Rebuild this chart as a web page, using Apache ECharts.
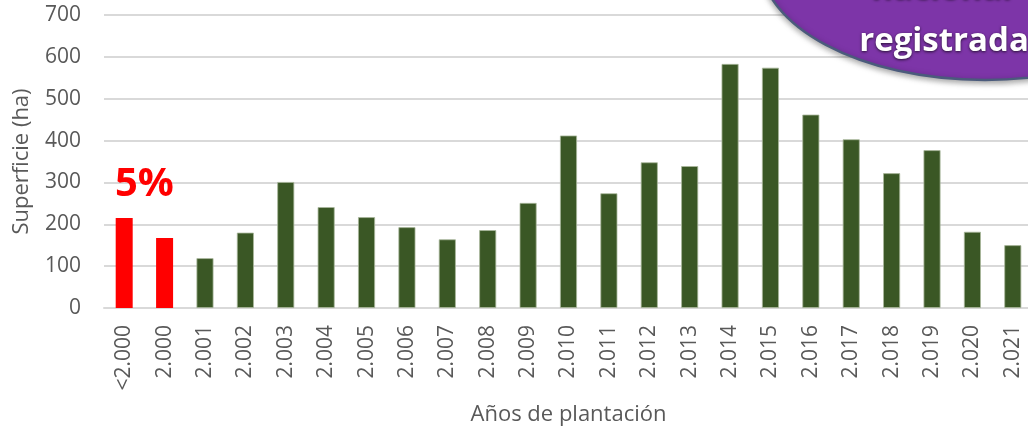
<!DOCTYPE html>
<html>
<head>
<meta charset="utf-8">
<script src="https://cdn.jsdelivr.net/npm/echarts@6/dist/echarts.min.js"></script>
<style>
  html, body { margin: 0; padding: 0; background: #fff; }
  #chart { width: 1028px; height: 429px; }
</style>
</head>
<body>
<div id="chart"></div>
<script>
// datos
const years = ["<2.000", "2.000", "2.001", "2.002", "2.003", "2.004", "2.005", "2.006", "2.007", "2.008",
  "2.009", "2.010", "2.011", "2.012", "2.013", "2.014", "2.015", "2.016", "2.017", "2.018", "2.019", "2.020", "2.021"];
const surface = [215, 167, 119, 180, 301, 241, 217, 193, 164, 186,
  251, 412, 274, 348, 339, 583, 574, 462, 403, 322, 377, 182, 150];
const oldCount = 2; // las dos primeras en rojo
const oldShare = "5%";

const green = "#3a5725";
const red = "#ff0000";
const grey = "#595959";
const font = "Open Sans";

const chart = echarts.init(document.getElementById("chart"));

chart.setOption({
  animation: false,
  textStyle: { fontFamily: font },
  grid: { left: 104, right: -5, top: 15, bottom: 121, outerBoundsMode: "none" },
  xAxis: {
    type: "category",
    data: years,
    name: "Años de plantación",
    nameLocation: "middle",
    nameGap: 96,
    nameTextStyle: { color: grey, fontSize: 22, fontFamily: font },
    axisLine: { lineStyle: { color: "#d9d9d9", width: 2 } },
    axisTick: { show: false },
    axisLabel: { rotate: 90, interval: 0, margin: 17, color: grey, fontSize: 21, fontFamily: font },
  },
  yAxis: {
    type: "value",
    min: 0,
    max: 700,
    interval: 100,
    name: "Superficie (ha)",
    nameLocation: "middle",
    nameGap: 71,
    nameTextStyle: { color: grey, fontSize: 22, fontFamily: font },
    axisLabel: { margin: 23, color: grey, fontSize: 21, fontFamily: font },
    splitLine: { lineStyle: { color: "#d9d9d9", width: 2 } },
  },
  series: [
    {
      type: "bar",
      barWidth: 17,
      data: surface.map((v, i) => ({
        value: v,
        itemStyle: i < oldCount
          ? { color: red }
          : { color: green, borderColor: "#a9b89c", borderWidth: 0.8 },
      })),
    },
  ],
  graphic: [
    {
      type: "text",
      z: 100,
      left: 115,
      top: 165,
      style: { text: oldShare, fill: red, font: "bold 40px 'Open Sans'" },
    },
    {
      type: "ellipse",
      z: 100,
      shape: { cx: 985, cy: -40, rx: 225, ry: 120 },
      style: {
        fill: "#7d35a8",
        stroke: "#4b5b7c",
        lineWidth: 2.5,
        shadowBlur: 6,
        shadowOffsetY: 2,
        shadowColor: "rgba(0,0,0,0.35)",
      },
    },
    {
      type: "text",
      z: 101,
      x: 942,
      y: 6,
      style: {
        text: "nacional",
        fill: "#fff",
        font: "bold 33px 'Open Sans'",
        align: "center",
        verticalAlign: "bottom",
        textShadowColor: "rgba(0,0,0,0.7)",
        textShadowBlur: 3,
        textShadowOffsetY: 1.5,
      },
    },
    {
      type: "text",
      z: 101,
      x: 944,
      y: 58,
      style: {
        text: "registrada",
        fill: "#fff",
        font: "bold 33px 'Open Sans'",
        align: "center",
        verticalAlign: "bottom",
        textShadowColor: "rgba(0,0,0,0.7)",
        textShadowBlur: 3,
        textShadowOffsetY: 1.5,
      },
    },
  ],
});
</script>
</body>
</html>
